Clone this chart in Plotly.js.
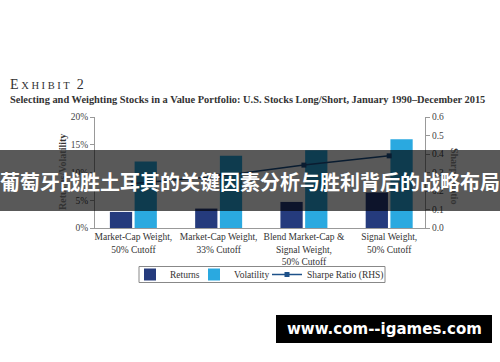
<!DOCTYPE html>
<html>
<head>
<meta charset="utf-8">
<script src="https://cdn.plot.ly/plotly-3.0.1.min.js"></script>
<style>html,body{margin:0;padding:0;background:#fff;}#chart{width:500px;height:362px;}</style>
</head>
<body>
<div id="chart"></div>
<script>
// Data
const categories = [
  "Market-Cap Weight,<br>50% Cutoff",
  "Market-Cap Weight,<br>33% Cutoff",
  "Blend Market-Cap &<br>Signal Weight,<br>50% Cutoff",
  "Signal Weight,<br>50% Cutoff"
];
const returnsPct = [2.9, 3.5, 4.7, 6.4];
const volatilityPct = [12.0, 13.0, 14.0, 16.0];
const sharpeRatio = [0.24, 0.28, 0.34, 0.39];
const leftTicks = [0, 5, 10, 15, 20];
const rightTicks = [0, 0.1, 0.2, 0.3, 0.4, 0.5, 0.6];

// pixel -> paper helpers (plot area 95..425 x, 117..228 y)
const L = 95, R = 425, T = 117, B = 228;
const px = v => (v - L) / (R - L);
const py = v => (B - v) / (B - T);

const serif = "Liberation Serif, DejaVu Serif, serif";
const xIdx = categories.map((c, i) => i);

const traces = [
  {type: "bar", name: "Returns", x: xIdx, y: returnsPct, marker: {color: "#253b7d"}, yaxis: "y", legend: "legend"},
  {type: "bar", name: "Volatility", x: xIdx, y: volatilityPct, marker: {color: "#2aa9e0"}, yaxis: "y", legend: "legend2"},
  {type: "scatter", mode: "lines+markers", name: "Sharpe Ratio (RHS)", x: xIdx, y: sharpeRatio, yaxis: "y2",
   legend: "legend3",
   line: {color: "#1d5189", width: 1.5}, marker: {symbol: "square", size: 5, color: "#1d5189"}}
];

const legendBase = {orientation: "h", xanchor: "left", y: py(274.5), yanchor: "middle",
  borderwidth: 0, bgcolor: "rgba(0,0,0,0)", font: {family: serif, size: 9.5, color: "#333"},
  itemwidth: 30};

const layout = {
  width: 500, height: 362,
  margin: {l: L, r: 500 - R, t: T, b: 362 - B, pad: 0},
  paper_bgcolor: "#fff", plot_bgcolor: "#fff",
  font: {family: serif, size: 9, color: "#333"},
  barmode: "group", bargap: 0.42, bargroupgap: 0.1,
  showlegend: true,
  legend: Object.assign({}, legendBase, {x: px(130)}),
  legend2: Object.assign({}, legendBase, {x: px(194)}),
  legend3: Object.assign({}, legendBase, {x: px(267)}),
  xaxis: {range: [-0.45, 3.42], tickmode: "array", tickvals: xIdx, ticktext: categories,
          showline: true, linecolor: "#999", linewidth: 1, ticks: "", showgrid: false, zeroline: false,
          tickfont: {family: serif, size: 9.5, color: "#333"}, fixedrange: true},
  yaxis: {range: [0, 20], tickmode: "array", tickvals: leftTicks, ticktext: leftTicks.map(v => v + "%"),
          showline: true, linecolor: "#999", linewidth: 1, ticks: "outside", ticklen: 4, tickcolor: "#999",
          showgrid: false, zeroline: false, tickfont: {family: serif, size: 9.5, color: "#444"}},
  yaxis2: {range: [0, 0.6], overlaying: "y", side: "right", tickmode: "array", tickvals: rightTicks,
           ticktext: rightTicks.map(v => v.toFixed(1)),
           showline: true, linecolor: "#999", linewidth: 1, ticks: "outside", ticklen: 4, tickcolor: "#999",
           showgrid: false, zeroline: false, tickfont: {family: serif, size: 9.5, color: "#444"}},
  shapes: [
    // legend frame
    {type: "rect", xref: "paper", yref: "paper", x0: px(139), x1: px(385), y0: py(282.5), y1: py(266.5),
     fillcolor: "rgba(0,0,0,0)", line: {width: 1, color: "#888"}, layer: "below"},
    // overlay banner
    {type: "rect", xref: "paper", yref: "paper", x0: px(0), x1: px(500), y0: py(211), y1: py(150),
     fillcolor: "rgba(0,0,0,0.65)", line: {width: 0}, layer: "above"},
    // watermark box
    {type: "rect", xref: "paper", yref: "paper", x0: px(276), x1: px(492), y0: py(343), y1: py(315),
     fillcolor: "#000", line: {width: 0}, layer: "above"}
  ],
  annotations: [
    {xref: "paper", yref: "paper", x: px(8), y: py(84), xanchor: "left", yanchor: "middle", showarrow: false,
     text: "E<span style='font-size:10.5px'> X H I B I T</span>  2",
     font: {family: serif, size: 14, color: "#333"}},
    {xref: "paper", yref: "paper", x: px(8), y: py(99), xanchor: "left", yanchor: "middle", showarrow: false,
     text: "<b>Selecting and Weighting Stocks in a Value Portfolio: U.S. Stocks Long/Short, January 1990–December 2015</b>",
     font: {family: serif, size: 10.4, color: "#333"}},
    {xref: "paper", yref: "paper", x: px(62), y: py(172), xanchor: "center", yanchor: "middle", showarrow: false,
     textangle: -90, text: "<b>Returns/Volatility</b>", font: {family: serif, size: 10, color: "#333"}},
    {xref: "paper", yref: "paper", x: px(455), y: py(176), xanchor: "center", yanchor: "middle", showarrow: false,
     textangle: 90, text: "<b>Sharpe Ratio</b>", font: {family: serif, size: 10, color: "#333"}},
    {xref: "paper", yref: "paper", x: px(250), y: py(181), xanchor: "center", yanchor: "middle", showarrow: false,
     text: "<b>葡萄牙战胜土耳其的关键因素分析与胜利背后的战略布局</b>",
     font: {family: "Noto Sans CJK SC, sans-serif", size: 20, color: "#fff"}},
    {xref: "paper", yref: "paper", x: px(384), y: py(329), xanchor: "center", yanchor: "middle", showarrow: false,
     text: "<b>www.com--igames.com</b>",
     font: {family: "DejaVu Sans, sans-serif", size: 15, color: "#fff"}}
  ]
};

Plotly.newPlot("chart", traces, layout, {staticPlot: true, displayModeBar: false});
</script>
</body>
</html>
